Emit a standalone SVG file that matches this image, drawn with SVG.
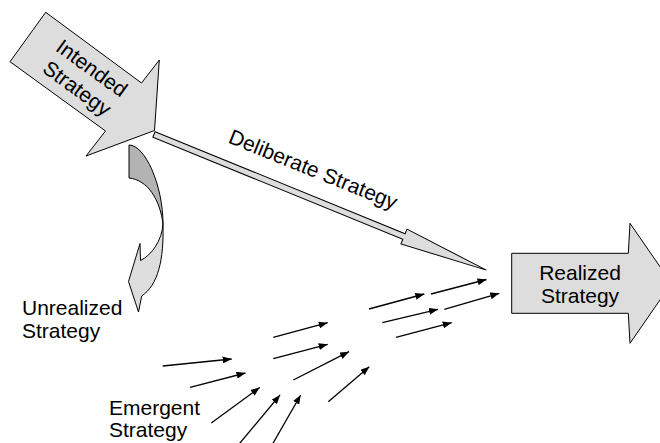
<svg xmlns="http://www.w3.org/2000/svg" width="660" height="443" viewBox="0 0 660 443">
  <style>
    .lbl { font-family: "Liberation Sans", Arial, sans-serif; font-size: 21px; fill: #000; }
    .block { fill: #dddddd; stroke: #000; stroke-width: 1; stroke-linejoin: miter; }
    .back { fill: #b3b3b3; stroke: #000; stroke-width: 1; }
    .flow { stroke: #000; stroke-width: 1.3; fill: none; marker-end: url(#tip); }
  </style>
  <defs>
    <marker id="tip" markerUnits="userSpaceOnUse" markerWidth="9" markerHeight="7" refX="9" refY="3.5" orient="auto">
      <path d="M0,0 L9,3.5 L0,7 Z" fill="#000"/>
    </marker>
  </defs>

  <rect width="660" height="443" fill="#ffffff"/>

  <!-- intended strategy: wide block arrow pointing down-right -->
  <g id="intended">
    <polygon class="block" points="45.7,12.3 141.5,83 159.3,60 154.5,130.5 86,156 105.5,131 10,61.7"/>
    <g transform="translate(84.6,78) rotate(36)">
      <text class="lbl" x="0" y="-5" text-anchor="middle">Intended</text>
      <text class="lbl" x="0" y="20" text-anchor="middle">Strategy</text>
    </g>
  </g>

  <!-- deliberate strategy: long thin arrow -->
  <g id="deliberate">
    <polygon class="block" transform="translate(154,134.5) rotate(22.2)" points="0,-3 270,-3 270,-8 359,0 270,8 270,3 0,3"/>
    <text class="lbl" transform="translate(310.5,176) rotate(22)" text-anchor="middle">Deliberate Strategy</text>
  </g>

  <!-- unrealized strategy: curved arrow peeling away -->
  <g id="unrealized">
    <path class="back" d="M129,145 C145,145 163,185 163,224 C160,200 148,180 129,178 Z"/>
    <path class="block" d="M163,224 C162,240 152,255 140.5,260.5 L140,243.5 L128.5,281.5 L138.5,312 L141.7,296 C158,285 164,260 163,224 Z"/>
    <text class="lbl" x="22" y="315">Unrealized</text>
    <text class="lbl" x="22" y="337.5">Strategy</text>
  </g>

  <!-- realized strategy: block arrow running off the right edge -->
  <g id="realized">
    <polygon class="block" points="511.7,253.3 628.3,253.3 630,223.3 671.5,283.3 630,343.3 628.3,313.3 511.7,313.3"/>
    <text class="lbl" x="580" y="280" text-anchor="middle">Realized</text>
    <text class="lbl" x="580" y="302.5" text-anchor="middle">Strategy</text>
  </g>

  <!-- emergent strategy label -->
  <g id="emergent">
    <text class="lbl" x="109" y="415">Emergent</text>
    <text class="lbl" x="109" y="437">Strategy</text>
  </g>

  <!-- emergent flows -->
  <g id="connectors">
    <line class="flow" x1="162.7" y1="366" x2="231.7" y2="359"/>
    <line class="flow" x1="190" y1="387.3" x2="245.5" y2="373"/>
    <line class="flow" x1="211.3" y1="423" x2="259.7" y2="387.5"/>
    <line class="flow" x1="238.3" y1="445" x2="280" y2="395"/>
    <line class="flow" x1="272" y1="445" x2="300.7" y2="395"/>
    <line class="flow" x1="273.3" y1="337.3" x2="327.7" y2="322.7"/>
    <line class="flow" x1="273.3" y1="358.7" x2="327.7" y2="344.3"/>
    <line class="flow" x1="293.3" y1="380" x2="349" y2="351.7"/>
    <line class="flow" x1="328.3" y1="401.7" x2="369.3" y2="366.7"/>
    <line class="flow" x1="369" y1="309" x2="424.3" y2="294"/>
    <line class="flow" x1="431" y1="294" x2="486.5" y2="279.5"/>
    <line class="flow" x1="382.3" y1="322.7" x2="438" y2="309.3"/>
    <line class="flow" x1="444.3" y1="309.3" x2="499.3" y2="293.3"/>
    <line class="flow" x1="396" y1="337.3" x2="451.7" y2="322.7"/>
  </g>
</svg>
